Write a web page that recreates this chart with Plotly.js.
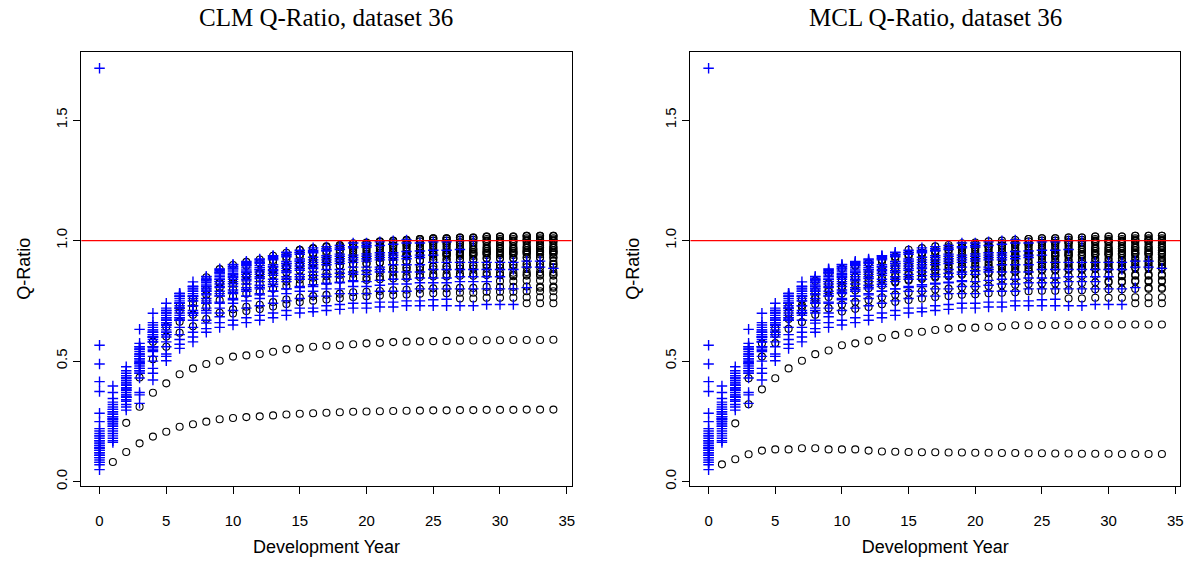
<!DOCTYPE html>
<html>
<head>
<meta charset="utf-8">
<script src="https://cdn.plot.ly/plotly-3.0.1.min.js"></script>
<style>
html, body { margin: 0; padding: 0; background: #ffffff; }
#chart { width: 1188px; height: 564px; }
</style>
</head>
<body>
<div id="chart"></div>
<script>
// Development years 0..34
const devYears = [0,1,2,3,4,5,6,7,8,9,10,11,12,13,14,15,16,17,18,19,20,21,22,23,24,25,26,27,28,29,30,31,32,33,34];

// Observed Q-ratios (upper triangle), one row per accident year, starting at development year 0
const observed = [
  [1.715,0.30,0.36,0.46,0.55,0.61,0.67,0.70,0.74,0.77,0.78,0.79,0.80,0.81,0.83,0.84,0.84,0.85,0.85,0.86,0.86,0.87,0.87,0.87,0.87,0.88,0.88,0.88,0.88,0.88,0.88,0.88,0.89,0.89,0.885],
  [0.566,0.397,0.477,0.574,0.62,0.66,0.71,0.73,0.76,0.79,0.81,0.82,0.83,0.84,0.85,0.86,0.87,0.88,0.88,0.89,0.89,0.89,0.90,0.90,0.90,0.91,0.91,0.91,0.91,0.91,0.91,0.91,0.915,0.915],
  [0.22,0.24,0.34,0.43,0.50,0.56,0.61,0.64,0.67,0.70,0.71,0.72,0.73,0.74,0.75,0.76,0.77,0.77,0.78,0.78,0.78,0.79,0.79,0.79,0.80,0.80,0.80,0.80,0.80,0.80,0.80,0.80,0.805],
  [0.10,0.19,0.297,0.36,0.45,0.502,0.553,0.58,0.62,0.64,0.65,0.66,0.67,0.68,0.69,0.70,0.705,0.71,0.715,0.72,0.72,0.725,0.725,0.73,0.73,0.73,0.73,0.73,0.73,0.735,0.735,0.735],
  [0.488,0.37,0.44,0.52,0.60,0.64,0.68,0.70,0.71,0.74,0.755,0.77,0.775,0.79,0.80,0.805,0.81,0.82,0.825,0.83,0.83,0.835,0.84,0.84,0.845,0.845,0.845,0.85,0.85,0.85,0.85],
  [0.19,0.25,0.35,0.45,0.52,0.58,0.64,0.67,0.70,0.72,0.74,0.75,0.76,0.77,0.78,0.79,0.79,0.80,0.80,0.81,0.81,0.815,0.82,0.82,0.825,0.825,0.825,0.83,0.83,0.83],
  [0.415,0.345,0.45,0.56,0.65,0.71,0.77,0.80,0.84,0.87,0.89,0.90,0.91,0.925,0.94,0.95,0.955,0.96,0.97,0.975,0.98,0.98,0.985,0.99,0.99,0.995,0.995,1.0,1.0],
  [0.16,0.27,0.40,0.51,0.60,0.67,0.74,0.77,0.81,0.84,0.86,0.87,0.88,0.89,0.905,0.915,0.92,0.93,0.935,0.94,0.945,0.95,0.95,0.955,0.957,0.96,0.96,0.963],
  [0.08,0.17,0.31,0.37,0.47,0.52,0.57,0.60,0.635,0.66,0.67,0.68,0.69,0.70,0.71,0.72,0.72,0.73,0.735,0.74,0.74,0.745,0.745,0.75,0.75,0.755,0.757],
  [0.374,0.32,0.43,0.55,0.62,0.68,0.74,0.77,0.79,0.82,0.84,0.85,0.86,0.875,0.885,0.895,0.90,0.91,0.915,0.92,0.925,0.93,0.93,0.935,0.94,0.94],
  [0.14,0.26,0.38,0.50,0.58,0.65,0.72,0.75,0.78,0.81,0.83,0.84,0.85,0.865,0.875,0.885,0.89,0.90,0.905,0.91,0.915,0.92,0.92,0.925,0.93],
  [0.21,0.29,0.42,0.54,0.63,0.70,0.77,0.81,0.85,0.88,0.90,0.91,0.92,0.935,0.95,0.96,0.97,0.975,0.98,0.99,0.99,0.995,1.0,1.003],
  [0.284,0.31,0.42,0.53,0.61,0.67,0.74,0.77,0.80,0.83,0.85,0.86,0.87,0.88,0.895,0.905,0.91,0.92,0.925,0.93,0.935,0.94,0.94],
  [0.12,0.23,0.36,0.48,0.56,0.62,0.68,0.71,0.75,0.78,0.795,0.805,0.815,0.83,0.84,0.85,0.855,0.86,0.865,0.87,0.875,0.88],
  [0.17,0.27,0.41,0.53,0.62,0.69,0.76,0.79,0.833,0.866,0.883,0.896,0.906,0.92,0.933,0.943,0.95,0.957,0.963,0.97,0.973],
  [0.249,0.28,0.39,0.49,0.56,0.61,0.67,0.69,0.72,0.745,0.76,0.77,0.78,0.79,0.80,0.81,0.817,0.823,0.828,0.834],
  [0.13,0.26,0.39,0.52,0.60,0.67,0.74,0.78,0.816,0.85,0.865,0.878,0.888,0.90,0.914,0.924,0.931,0.938,0.944],
  [0.18,0.28,0.41,0.55,0.64,0.71,0.78,0.81,0.841,0.875,0.892,0.905,0.915,0.929,0.942,0.952,0.96,0.967],
  [0.09,0.21,0.35,0.47,0.56,0.63,0.70,0.73,0.775,0.805,0.821,0.833,0.843,0.856,0.868,0.877,0.884],
  [0.15,0.25,0.38,0.50,0.59,0.66,0.73,0.77,0.808,0.84,0.857,0.869,0.879,0.892,0.905,0.915],
  [0.20,0.30,0.44,0.632,0.699,0.74,0.782,0.829,0.851,0.883,0.901,0.914,0.924,0.938,0.952],
  [0.11,0.22,0.35,0.46,0.54,0.60,0.67,0.70,0.741,0.771,0.786,0.797,0.806,0.819],
  [0.16,0.27,0.40,0.52,0.61,0.68,0.75,0.79,0.825,0.857,0.874,0.887,0.897],
  [0.14,0.25,0.38,0.49,0.58,0.65,0.72,0.76,0.80,0.831,0.848,0.86],
  [0.19,0.29,0.43,0.55,0.63,0.70,0.77,0.80,0.833,0.866,0.883],
  [0.07,0.18,0.32,0.325,0.422,0.53,0.59,0.62,0.658,0.684],
  [0.13,0.26,0.38,0.49,0.58,0.65,0.72,0.75,0.791],
  [0.17,0.33,0.46,0.56,0.66,0.72,0.78,0.81],
  [0.12,0.24,0.37,0.47,0.56,0.62,0.69],
  [0.15,0.27,0.40,0.51,0.60,0.66],
  [0.11,0.23,0.35,0.45,0.544],
  [0.14,0.26,0.39,0.495],
  [0.10,0.20,0.334],
  [0.08,0.163],
  [0.05]
];

// CLM projected Q-ratios (lower triangle), one row per accident year, ending at development year 34
const clmProjected = [
  [],
  [0.915],
  [0.805,0.805],
  [0.74,0.74,0.74],
  [0.852,0.855,0.855,0.855],
  [0.832,0.832,0.835,0.835,0.835],
  [1.0,1.0,1.0,1.005,1.005,1.005],
  [0.963,0.967,0.967,0.967,0.97,0.97,0.97],
  [0.76,0.76,0.763,0.763,0.763,0.765,0.765,0.765],
  [0.94,0.943,0.943,0.947,0.947,0.947,0.95,0.95,0.95],
  [0.933,0.933,0.936,0.936,0.94,0.94,0.94,0.943,0.943,0.943],
  [1.007,1.01,1.01,1.013,1.013,1.017,1.017,1.017,1.02,1.02,1.02],
  [0.943,0.947,0.95,0.95,0.953,0.953,0.957,0.957,0.957,0.96,0.96,0.96],
  [0.883,0.886,0.889,0.892,0.892,0.895,0.895,0.898,0.898,0.898,0.90,0.90,0.90],
  [0.977,0.98,0.983,0.987,0.99,0.99,0.993,0.993,0.997,0.997,0.997,1.0,1.0,1.0],
  [0.837,0.84,0.843,0.845,0.849,0.851,0.851,0.854,0.854,0.857,0.857,0.857,0.86,0.86,0.86],
  [0.951,0.954,0.957,0.96,0.963,0.967,0.97,0.97,0.973,0.973,0.977,0.977,0.977,0.98,0.98,0.98],
  [0.973,0.98,0.983,0.987,0.99,0.993,0.997,1.0,1.0,1.003,1.003,1.007,1.007,1.007,1.01,1.01,1.01],
  [0.89,0.896,0.902,0.905,0.909,0.911,0.914,0.918,0.921,0.921,0.923,0.923,0.927,0.927,0.927,0.93,0.93,0.93],
  [0.922,0.928,0.934,0.941,0.944,0.948,0.951,0.954,0.957,0.96,0.96,0.963,0.963,0.967,0.967,0.967,0.97,0.97,0.97],
  [0.962,0.969,0.976,0.982,0.989,0.992,0.997,1.0,1.003,1.007,1.01,1.01,1.013,1.013,1.017,1.017,1.017,1.02,1.02,1.02],
  [0.83,0.839,0.846,0.852,0.857,0.863,0.866,0.87,0.872,0.875,0.878,0.881,0.881,0.884,0.884,0.887,0.887,0.887,0.89,0.89,0.89],
  [0.911,0.924,0.934,0.941,0.947,0.953,0.96,0.963,0.967,0.97,0.973,0.977,0.98,0.98,0.983,0.983,0.987,0.987,0.987,0.99,0.99,0.99],
  [0.87,0.883,0.896,0.905,0.912,0.919,0.924,0.931,0.934,0.938,0.941,0.944,0.948,0.95,0.95,0.953,0.953,0.957,0.957,0.957,0.96,0.96,0.96],
  [0.896,0.906,0.92,0.933,0.943,0.95,0.957,0.963,0.97,0.973,0.977,0.98,0.983,0.987,0.99,0.99,0.993,0.993,0.997,0.997,0.997,1.0,1.0,1.0],
  [0.698,0.708,0.716,0.727,0.737,0.745,0.751,0.756,0.761,0.766,0.769,0.772,0.774,0.777,0.78,0.782,0.782,0.784,0.784,0.788,0.788,0.788,0.79,0.79,0.79],
  [0.823,0.839,0.851,0.861,0.874,0.886,0.896,0.903,0.909,0.915,0.922,0.924,0.928,0.931,0.934,0.938,0.941,0.941,0.943,0.943,0.947,0.947,0.947,0.95,0.95,0.95],
  [0.848,0.882,0.899,0.912,0.922,0.937,0.95,0.96,0.967,0.974,0.98,0.987,0.99,0.995,0.998,1.001,1.005,1.008,1.008,1.011,1.011,1.015,1.015,1.015,1.018,1.018,1.018],
  [0.72,0.753,0.783,0.798,0.81,0.819,0.832,0.843,0.852,0.859,0.865,0.871,0.877,0.88,0.883,0.886,0.889,0.892,0.895,0.895,0.898,0.898,0.901,0.901,0.901,0.904,0.904,0.904],
  [0.728,0.759,0.795,0.826,0.842,0.855,0.864,0.878,0.89,0.9,0.906,0.913,0.919,0.925,0.928,0.932,0.935,0.938,0.942,0.944,0.944,0.947,0.947,0.951,0.951,0.951,0.954,0.954,0.954],
  [0.602,0.664,0.693,0.725,0.753,0.768,0.78,0.788,0.80,0.812,0.82,0.827,0.833,0.838,0.844,0.847,0.85,0.853,0.855,0.859,0.861,0.861,0.864,0.864,0.867,0.867,0.867,0.87,0.87,0.87],
  [0.581,0.643,0.71,0.74,0.775,0.805,0.821,0.833,0.843,0.856,0.868,0.877,0.884,0.89,0.896,0.902,0.905,0.909,0.911,0.914,0.918,0.921,0.921,0.923,0.923,0.927,0.927,0.927,0.93,0.93,0.93],
  [0.432,0.508,0.56,0.618,0.645,0.675,0.701,0.715,0.726,0.734,0.745,0.756,0.764,0.77,0.775,0.78,0.786,0.788,0.791,0.794,0.796,0.80,0.802,0.802,0.804,0.804,0.808,0.808,0.808,0.81,0.81,0.81],
  [0.244,0.311,0.369,0.408,0.446,0.470,0.488,0.502,0.519,0.524,0.530,0.539,0.549,0.553,0.560,0.564,0.566,0.570,0.574,0.576,0.579,0.581,0.582,0.583,0.584,0.585,0.586,0.587,0.587,0.588,0.588,0.588,0.589],
  [0.082,0.123,0.159,0.187,0.207,0.228,0.238,0.249,0.259,0.264,0.268,0.271,0.275,0.279,0.282,0.284,0.286,0.288,0.290,0.291,0.292,0.293,0.294,0.295,0.296,0.296,0.297,0.297,0.298,0.298,0.298,0.299,0.299,0.299]
];

// MCL projected Q-ratios for the recent accident years 25..34 (older years coincide with CLM)
const mclProjectedRecent = [
  [0.706,0.717,0.725,0.736,0.746,0.754,0.76,0.766,0.77,0.776,0.778,0.782,0.784,0.786,0.79,0.792,0.792,0.794,0.794,0.798,0.798,0.798,0.80,0.80,0.80],
  [0.818,0.834,0.847,0.856,0.869,0.882,0.891,0.898,0.904,0.91,0.917,0.919,0.923,0.926,0.929,0.933,0.936,0.936,0.938,0.938,0.942,0.942,0.942,0.945,0.945,0.945],
  [0.833,0.866,0.883,0.896,0.906,0.92,0.933,0.943,0.95,0.957,0.963,0.97,0.973,0.977,0.98,0.983,0.987,0.99,0.99,0.993,0.993,0.997,0.997,0.997,1.0,1.0,1.0],
  [0.724,0.758,0.788,0.804,0.815,0.824,0.837,0.849,0.858,0.865,0.871,0.876,0.883,0.885,0.889,0.892,0.895,0.898,0.901,0.901,0.904,0.904,0.907,0.907,0.907,0.91,0.91,0.91],
  [0.725,0.756,0.791,0.823,0.839,0.851,0.861,0.874,0.886,0.896,0.903,0.909,0.915,0.922,0.924,0.928,0.931,0.934,0.938,0.941,0.941,0.943,0.943,0.947,0.947,0.947,0.95,0.95,0.95],
  [0.612,0.675,0.704,0.737,0.766,0.781,0.793,0.802,0.814,0.826,0.835,0.841,0.847,0.852,0.858,0.861,0.865,0.867,0.87,0.873,0.876,0.876,0.879,0.879,0.882,0.882,0.882,0.885,0.885,0.885],
  [0.574,0.636,0.702,0.732,0.766,0.797,0.812,0.824,0.834,0.846,0.858,0.868,0.874,0.88,0.886,0.892,0.895,0.899,0.902,0.904,0.908,0.911,0.911,0.914,0.914,0.917,0.917,0.917,0.92,0.92,0.92],
  [0.429,0.519,0.575,0.634,0.662,0.693,0.72,0.735,0.746,0.754,0.765,0.776,0.785,0.791,0.797,0.801,0.807,0.809,0.812,0.815,0.817,0.82,0.822,0.822,0.824,0.824,0.827,0.827,0.827,0.83,0.83,0.83],
  [0.242,0.321,0.383,0.429,0.470,0.502,0.529,0.544,0.566,0.574,0.585,0.597,0.609,0.618,0.622,0.629,0.635,0.639,0.639,0.643,0.643,0.649,0.649,0.650,0.650,0.651,0.651,0.651,0.652,0.652,0.652,0.652,0.652],
  [0.072,0.093,0.114,0.129,0.134,0.134,0.139,0.139,0.134,0.134,0.134,0.129,0.125,0.124,0.123,0.122,0.122,0.121,0.121,0.12,0.12,0.119,0.119,0.118,0.118,0.117,0.117,0.116,0.116,0.116,0.115,0.115,0.115,0.115]
];

const panelTitles = ["CLM Q-Ratio, dataset 36", "MCL Q-Ratio, dataset 36"];
const xTickVals = [0, 5, 10, 15, 20, 25, 30, 35];
const xTickText = ["0", "5", "10", "15", "20", "25", "30", "35"];
const yTickVals = [0, 0.5, 1, 1.5];
const yTickText = ["0.0", "0.5", "1.0", "1.5"];
const referenceLevel = 1;

const mclProjected = clmProjected.slice(0, 25).concat(mclProjectedRecent);

function observedPoints() {
  const xs = [], ys = [];
  observed.forEach(row => row.forEach((v, k) => { xs.push(devYears[k]); ys.push(v); }));
  return { xs, ys };
}
function projectedPoints(rows) {
  const xs = [], ys = [];
  rows.forEach(row => {
    const start = devYears.length - row.length;
    row.forEach((v, k) => { xs.push(devYears[start + k]); ys.push(v); });
  });
  return { xs, ys };
}

const obs = observedPoints();
const projSets = [projectedPoints(clmProjected), projectedPoints(mclProjected)];
const axisIds = [["x", "y"], ["x2", "y2"]];

const traces = [];
projSets.forEach((p, i) => {
  traces.push({
    type: "scatter", mode: "markers", x: p.xs, y: p.ys,
    xaxis: axisIds[i][0], yaxis: axisIds[i][1],
    marker: { symbol: "circle-open", size: 7, color: "#000000", line: { width: 1.1, color: "#000000" } },
    hoverinfo: "skip", showlegend: false
  });
  traces.push({
    type: "scatter", mode: "markers", x: obs.xs, y: obs.ys,
    xaxis: axisIds[i][0], yaxis: axisIds[i][1],
    marker: { symbol: "cross-thin-open", size: 7.5, color: "#0000ff", line: { width: 1.4, color: "#0000ff" } },
    hoverinfo: "skip", showlegend: false
  });
});

const tickFont = { family: "Liberation Sans, Arial, sans-serif", size: 15, color: "#000000" };
const titleFont = { family: "Liberation Sans, Arial, sans-serif", size: 18, color: "#000000" };

function xAxis(domain, anchor) {
  return {
    domain, anchor, range: [-1.36, 35.36],
    tickmode: "array", tickvals: xTickVals, ticktext: xTickText,
    ticks: "outside", ticklen: 7, tickwidth: 1, tickcolor: "#000000",
    ticklabelstandoff: 14,
    showline: true, mirror: true, linecolor: "#000000", linewidth: 1,
    showgrid: false, zeroline: false, tickfont: tickFont,
    title: { text: "Development Year", font: titleFont, standoff: 12 },
    automargin: false, fixedrange: true
  };
}
function yAxis(anchor) {
  return {
    domain: [0.1388, 0.9083], anchor, range: [-0.0167, 1.7837],
    tickmode: "array", tickvals: yTickVals, ticktext: yTickText, tickangle: -90,
    ticks: "outside", ticklen: 7, tickwidth: 1, tickcolor: "#000000",
    showline: true, mirror: true, linecolor: "#000000", linewidth: 1,
    showgrid: false, zeroline: false, tickfont: tickFont,
    title: { text: "Q-Ratio", font: titleFont, standoff: 18 },
    automargin: false, fixedrange: true
  };
}

const xDomains = [[0.0685, 0.4811], [0.5812, 0.9933]];

const layout = {
  width: 1188, height: 564,
  margin: { l: 0, r: 0, t: 0, b: 0 },
  paper_bgcolor: "#ffffff", plot_bgcolor: "#ffffff",
  xaxis: xAxis(xDomains[0], "y"),
  yaxis: yAxis("x"),
  xaxis2: xAxis(xDomains[1], "y2"),
  yaxis2: yAxis("x2"),
  shapes: [
    { type: "line", xref: "x domain", yref: "y", x0: 0, x1: 1, y0: referenceLevel, y1: referenceLevel, line: { color: "#ff0000", width: 1.3 } },
    { type: "line", xref: "x2 domain", yref: "y2", x0: 0, x1: 1, y0: referenceLevel, y1: referenceLevel, line: { color: "#ff0000", width: 1.3 } }
  ],
  annotations: panelTitles.map((t, i) => ({
    text: t, xref: "paper", yref: "paper",
    x: (xDomains[i][0] + xDomains[i][1]) / 2, y: (564 - 17) / 564,
    xanchor: "center", yanchor: "middle", showarrow: false,
    font: { family: "Liberation Serif, Times New Roman, serif", size: 25, color: "#000000" }
  }))
};

Plotly.newPlot("chart", traces, layout, { displayModeBar: false, staticPlot: true });
</script>
</body>
</html>
